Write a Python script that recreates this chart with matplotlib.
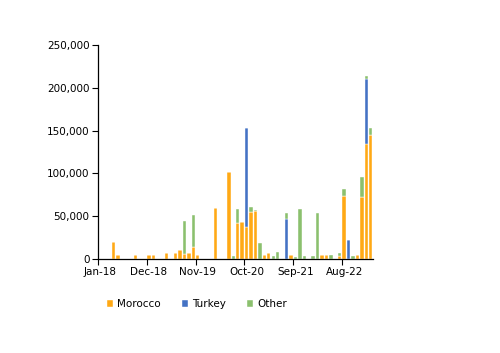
import matplotlib
matplotlib.use("Agg")
import matplotlib.pyplot as plt
import numpy as np
from matplotlib.ticker import FuncFormatter

# monthly values, Jan-18 .. Feb-23 (62 months)
n_months = 62
morocco = np.zeros(n_months)
turkey = np.zeros(n_months)
other = np.zeros(n_months)

morocco_vals = {3: 20000, 4: 4300, 8: 4000, 11: 4000, 12: 4000, 15: 6300, 17: 6600,
                18: 10200, 19: 6000, 20: 6600, 21: 13300, 22: 4000, 26: 59000,
                29: 101000, 31: 41500, 32: 42600, 33: 36800, 34: 54300, 35: 55800,
                37: 4300, 38: 6300, 43: 4000, 50: 4000, 51: 4000, 54: 3500,
                55: 73400, 58: 4300, 59: 72600, 60: 134300, 61: 144900}
turkey_vals = {33: 115900, 42: 46500, 56: 22300, 60: 75800}
other_vals = {19: 38100, 21: 37900, 30: 3000, 31: 17100, 34: 6200, 35: 900,
              36: 18000, 39: 3500, 40: 7800, 42: 7400, 44: 2300, 45: 58500,
              46: 3000, 48: 3000, 49: 53900, 52: 4000, 54: 3500, 55: 8200,
              57: 3000, 59: 23400, 60: 4200, 61: 7800}

for k, v in morocco_vals.items():
    morocco[k] = v
for k, v in turkey_vals.items():
    turkey[k] = v
for k, v in other_vals.items():
    other[k] = v

tick_labels = ["Jan-18", "Dec-18", "Nov-19", "Oct-20", "Sep-21", "Aug-22"]

c_mor = "#FFA915"
c_tur = "#4472C4"
c_oth = "#8BC06E"

fig = plt.figure(figsize=(5, 3.53), dpi=100)
ax = fig.add_axes([98/500, 1-258.7/353, 275/500, (258.7-45.3)/353])

x = np.arange(n_months)
w = 0.76
ax.bar(x, morocco, w, color=c_mor, edgecolor="white", linewidth=0.3, label="Morocco")
ax.bar(x, turkey, w, bottom=morocco, color=c_tur, edgecolor="white", linewidth=0.3, label="Turkey")
ax.bar(x, other, w, bottom=morocco+turkey, color=c_oth, edgecolor="white", linewidth=0.3, label="Other")

ax.set_xlim(-0.5, n_months-0.5)
ax.set_ylim(0, 250000)
ax.set_yticks(np.arange(0, 250001, 50000))
ax.yaxis.set_major_formatter(FuncFormatter(lambda v, p: f"{int(v):,}"))

ax.set_xticks(np.arange(0, n_months, 11))
ax.set_xticklabels(tick_labels)
ax.set_xticks(np.arange(0, n_months, 11) - 0.5, minor=True)
ax.tick_params(axis="x", which="major", length=0, pad=6)
ax.tick_params(axis="x", which="minor", length=4, width=0.8, direction="out")
ax.tick_params(axis="y", length=4, width=0.8, direction="out", pad=2)
ax.tick_params(labelsize=7.5, colors="black")

for s in ["top", "right"]:
    ax.spines[s].set_visible(False)
for s in ["left", "bottom"]:
    ax.spines[s].set_linewidth(0.9)
    ax.spines[s].set_color("black")

fig.legend(loc="center left", bbox_to_anchor=(107/500, 1-304/353), ncol=3,
           frameon=False, fontsize=7.5, handlelength=0.6, handleheight=0.6,
           handletextpad=0.4, columnspacing=2.0, borderaxespad=0, borderpad=0)

fig.savefig("out.png", dpi=100)
